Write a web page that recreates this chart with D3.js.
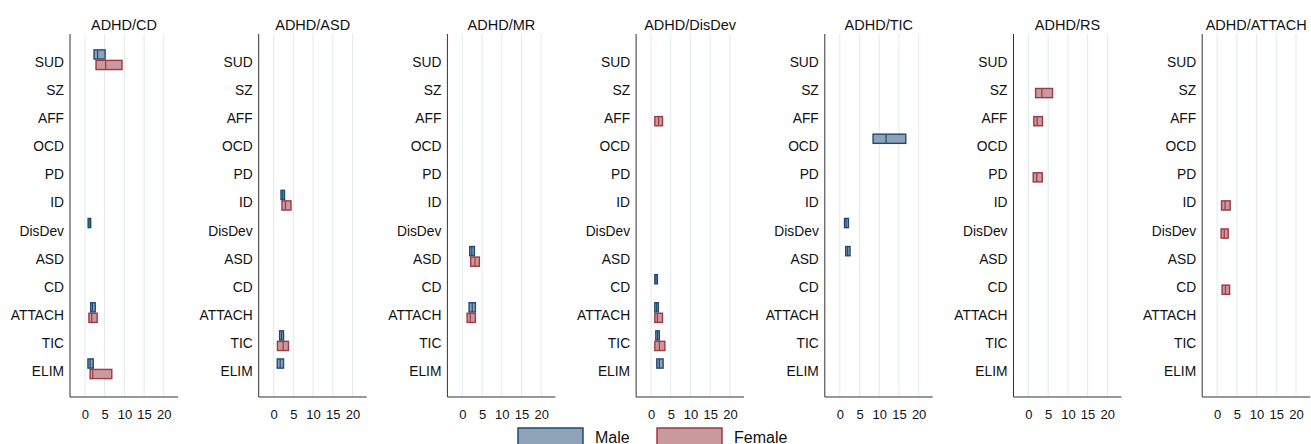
<!DOCTYPE html>
<html>
<head>
<meta charset="utf-8">
<script src="https://cdn.jsdelivr.net/npm/d3@7"></script>
<style>
    body { margin: 0; background: #fff; }
    svg { font-family: "Liberation Sans", Arial, Helvetica, sans-serif; }
</style>
</head>
<body>
<svg id="chart" width="1311" height="444"></svg>
<script>
// comparison panels and the comorbid disorders on the y axis
var panels = ["ADHD/CD", "ADHD/ASD", "ADHD/MR", "ADHD/DisDev", "ADHD/TIC", "ADHD/RS", "ADHD/ATTACH"];
var categories = ["SUD", "SZ", "AFF", "OCD", "PD", "ID", "DisDev", "ASD", "CD", "ATTACH", "TIC", "ELIM"];
var sexes = ["Male", "Female"];
var xTicks = [0, 5, 10, 15, 20];

// [panel, category, lower, estimate, upper]
var maleRows = [
    ["ADHD/CD", "SUD", 2.3, 3.2, 5.1],
    ["ADHD/CD", "DisDev", 0.8, 1.05, 1.45],
    ["ADHD/CD", "ATTACH", 1.45, 1.9, 2.6],
    ["ADHD/CD", "ELIM", 0.75, 1.3, 2.1],
    ["ADHD/ASD", "ID", 1.85, 2.3, 2.75],
    ["ADHD/ASD", "TIC", 1.5, 2.0, 2.5],
    ["ADHD/ASD", "ELIM", 0.9, 1.65, 2.5],
    ["ADHD/MR", "ASD", 1.85, 2.4, 3.05],
    ["ADHD/MR", "ATTACH", 1.7, 2.5, 3.3],
    ["ADHD/DisDev", "CD", 0.95, 1.25, 1.6],
    ["ADHD/DisDev", "ATTACH", 0.95, 1.4, 1.85],
    ["ADHD/DisDev", "TIC", 1.2, 1.65, 2.1],
    ["ADHD/DisDev", "ELIM", 1.45, 2.1, 3.05],
    ["ADHD/TIC", "OCD", 8.45, 11.75, 16.75],
    ["ADHD/TIC", "DisDev", 1.2, 1.6, 2.2],
    ["ADHD/TIC", "ASD", 1.5, 2.0, 2.6]
];

var femaleRows = [
    ["ADHD/CD", "SUD", 2.8, 5.25, 9.4],
    ["ADHD/CD", "ATTACH", 1.0, 1.7, 3.1],
    ["ADHD/CD", "ELIM", 1.3, 1.95, 6.8],
    ["ADHD/ASD", "ID", 2.1, 3.0, 4.4],
    ["ADHD/ASD", "TIC", 0.95, 2.4, 3.75],
    ["ADHD/MR", "ASD", 2.1, 3.2, 4.3],
    ["ADHD/MR", "ATTACH", 1.2, 2.0, 3.3],
    ["ADHD/DisDev", "AFF", 0.95, 1.9, 2.9],
    ["ADHD/DisDev", "ATTACH", 0.95, 1.6, 2.9],
    ["ADHD/DisDev", "TIC", 0.95, 2.1, 3.5],
    ["ADHD/RS", "SZ", 1.8, 3.4, 6.1],
    ["ADHD/RS", "AFF", 1.35, 2.2, 3.55],
    ["ADHD/RS", "PD", 1.2, 2.1, 3.5],
    ["ADHD/ATTACH", "ID", 1.1, 2.0, 3.3],
    ["ADHD/ATTACH", "DisDev", 1.0, 1.8, 2.8],
    ["ADHD/ATTACH", "CD", 1.25, 2.1, 3.15]
];

var fills = {"Male": "#8fa3b8", "Female": "#c9999d"};
var strokes = {"Male": "#1f4a74", "Female": "#9c3a45"};
var offsets = {"Male": -6.5, "Female": 4}; // bar centre relative to the category tick

var svg = d3.select("#chart");
var panelLeft = 70, panelStep = 188.7, panelWidth = 108;
var plotTop = 34, plotBottom = 397;

var y = d3.scalePoint()
    .domain(categories)
    .range([plotTop, plotBottom])
    .padding(0.96);

panels.forEach(function (p, i) {
    var x0 = panelLeft + i * panelStep;
    var x = d3.scaleLinear()
        .domain([-3.8, 23.6])
        .range([x0, x0 + panelWidth]);

    var g = svg.append("g");

    // vertical gridlines
    g.selectAll("line.grid")
        .data(xTicks)
        .enter()
        .append("line")
        .attr("class", "grid")
        .attr("x1", function (d) { return x(d); })
        .attr("x2", function (d) { return x(d); })
        .attr("y1", plotTop)
        .attr("y2", plotBottom)
        .attr("stroke", "#e1eaee")
        .attr("stroke-width", 1);

    // x axis
    var xAxis = g.append("g")
        .attr("transform", "translate(0," + plotBottom + ")")
        .call(d3.axisBottom(x).tickValues(xTicks).tickSize(0).tickPadding(13));
    xAxis.select(".domain").attr("stroke", "#333").attr("d", "M" + x0 + ",0H" + (x0 + panelWidth));
    xAxis.selectAll("text")
        .attr("font-size", "13px")
        .attr("fill", "#111")
        .attr("font-family", "Liberation Sans, Arial, sans-serif");

    // y axis
    var yAxis = g.append("g")
        .attr("transform", "translate(" + x0 + ",0)")
        .call(d3.axisLeft(y).tickSize(0).tickPadding(6));
    yAxis.select(".domain").attr("stroke", "#333").attr("d", "M0," + plotTop + "V" + plotBottom);
    yAxis.selectAll("text")
        .attr("font-size", "13.8px")
        .attr("fill", "#111")
        .attr("dy", "0.4em")
        .attr("font-family", "Liberation Sans, Arial, sans-serif");

    // panel title
    g.append("text")
        .attr("x", x0 + panelWidth / 2)
        .attr("y", 29.5)
        .attr("text-anchor", "middle")
        .attr("font-size", "14.5px")
        .attr("fill", "#111")
        .text(p);

    // bars: box from lower to upper, line at the estimate
    [["Male", maleRows], ["Female", femaleRows]].forEach(function (s) {
        var sex = s[0];
        var rows = s[1].filter(function (r) { return r[0] === p; });
        var bars = g.selectAll("g." + sex)
            .data(rows)
            .enter()
            .append("g")
            .attr("class", sex);

        bars.append("rect")
            .attr("x", function (d) { return x(d[2]); })
            .attr("y", function (d) { return y(d[1]) + offsets[sex] - 4.6; })
            .attr("width", function (d) { return x(d[4]) - x(d[2]); })
            .attr("height", 9.2)
            .attr("fill", fills[sex])
            .attr("stroke", strokes[sex])
            .attr("stroke-width", 1.4);

        bars.append("line")
            .attr("x1", function (d) { return x(d[3]); })
            .attr("x2", function (d) { return x(d[3]); })
            .attr("y1", function (d) { return y(d[1]) + offsets[sex] - 4.6; })
            .attr("y2", function (d) { return y(d[1]) + offsets[sex] + 4.6; })
            .attr("stroke", strokes[sex])
            .attr("stroke-width", 1.2);
    });
});

// legend at the bottom
var legendX = [518, 657];
var legend = svg.append("g")
    .selectAll("g")
    .data(sexes)
    .enter()
    .append("g")
    .attr("transform", function (d, i) {
        return "translate(" + legendX[i] + ",428)";
    });

legend.append("rect")
    .attr("x", 0)
    .attr("y", 0)
    .attr("width", 65)
    .attr("height", 20)
    .attr("fill", function (d) { return fills[d]; })
    .attr("stroke", function (d) { return strokes[d]; })
    .attr("stroke-width", 1.5);

legend.append("text")
    .attr("x", 77)
    .attr("y", 14.5)
    .attr("font-size", "16px")
    .attr("fill", "#111")
    .text(function (d) { return d; });
</script>
</body>
</html>
